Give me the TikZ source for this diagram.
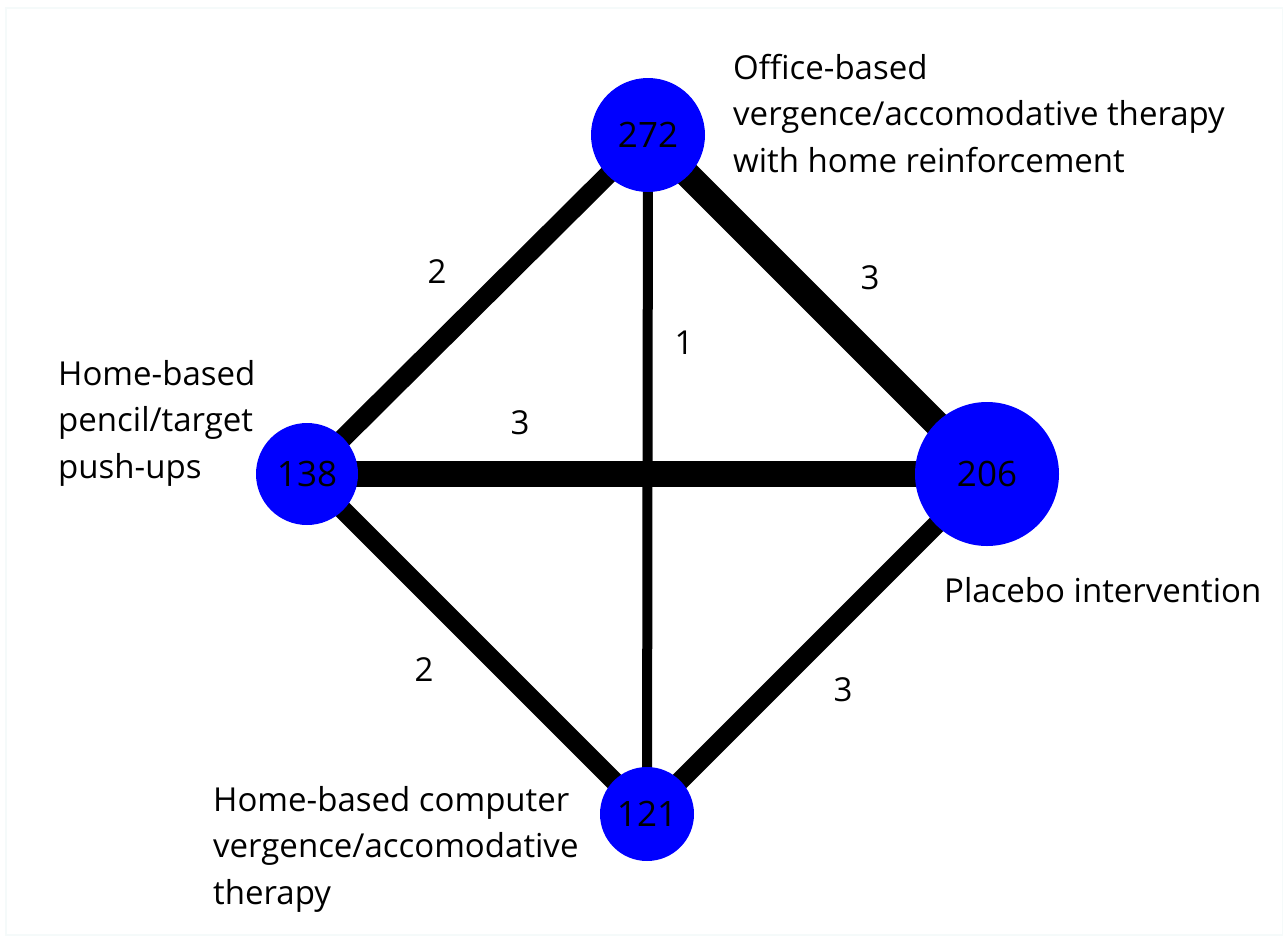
\documentclass[tikz,border=0pt]{standalone}
\usepackage{fontspec}
\setmainfont{Open Sans}
\usepackage{tikz}
\usetikzlibrary{backgrounds}

\definecolor{netblue}{rgb}{0,0,1}
\definecolor{framegray}{rgb}{0.96,0.98,0.98}

\tikzset{
  trt/.style={circle, fill=netblue, draw=none, inner sep=0pt, text depth=-4pt, font=\fontsize{35}{40}\selectfont},
  edgelbl/.style={inner sep=0pt, font=\fontsize{33}{40}\selectfont},
  trtname/.style={anchor=north west, inner sep=0pt, align=left, font=\fontsize{33}{46.5}\selectfont},
  link/.style={line width=#1, draw=black}
}

\begin{document}
\begin{tikzpicture}[x=1pt,y=1pt,yscale=-1,xscale=1]
\useasboundingbox (0,0) rectangle (1283,935);
%frame
\draw [framegray, line width=1.5] (6,8) rectangle (1283,935);

%Treatment nodes
\node [trt, minimum size=114] (office) at (648,135) {272};
\node [trt, minimum size=144] (placebo) at (987,474) {206};
\node [trt, minimum size=102] (pencil) at (307,474) {138};
\node [trt, minimum size=94] (computer) at (647,814) {121};

%Straight Lines
\begin{pgfonlayer}{background}
\draw [link=19] (pencil.center) -- (office.center) ;
\draw [link=10] (office.center) -- (computer.center) ;
\draw [link=26] (office.center) -- (placebo.center) ;
\draw [link=26] (pencil.center) -- (placebo.center) ;
\draw [link=19] (pencil.center) -- (computer.center) ;
\draw [link=19] (placebo.center) -- (computer.center) ;
\end{pgfonlayer}

% Text Node
\node [trtname] (officename) at (733,54) {Office-based\\vergence/accomodative therapy\\with home reinforcement};
% Text Node
\node [trtname] (pencilname) at (58,360) {Home-based\\pencil/target\\push-ups};
% Text Node
\node [trtname] (placeboname) at (944,577) {Placebo intervention};
% Text Node
\node [trtname] (computername) at (213,786) {Home-based computer\\vergence/accomodative\\therapy};

% Edge labels
\node [edgelbl] (lblpo) at (437,272) {2};
\node [edgelbl] (lbloc) at (684,343) {1};
\node [edgelbl] (lblop) at (870,278) {3};
\node [edgelbl] (lblpp) at (520,423) {3};
\node [edgelbl] (lblpc) at (424,670) {2};
\node [edgelbl] (lblcp) at (843,690) {3};
\end{tikzpicture}
\end{document}
